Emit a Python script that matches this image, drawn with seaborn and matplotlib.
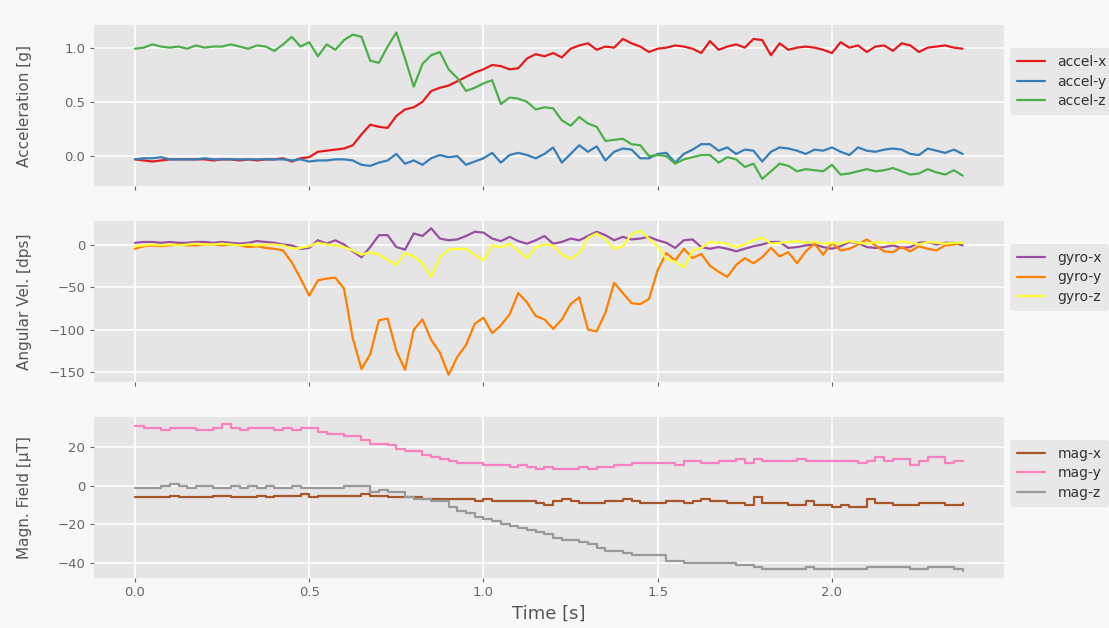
import numpy as np
import pandas as pd
import matplotlib
matplotlib.use("Agg")
import matplotlib.pyplot as plt
import seaborn as sns

# Sensor log sampled every 25 ms
SAMPLE_PERIOD = 0.025
N_SAMPLES = 96

accel_x = [-0.03, -0.04, -0.05, -0.04, -0.03, -0.03, -0.03, -0.03, -0.03, -0.04, -0.03, -0.03,
           -0.04, -0.03, -0.04, -0.03, -0.03, -0.02, -0.05, -0.02, -0.01, 0.04, 0.05, 0.06,
           0.07, 0.10, 0.20, 0.29, 0.27, 0.26, 0.37, 0.43, 0.45, 0.50, 0.60, 0.63,
           0.65, 0.69, 0.73, 0.77, 0.80, 0.84, 0.83, 0.80, 0.81, 0.90, 0.94, 0.92,
           0.95, 0.91, 0.99, 1.02, 1.04, 0.98, 1.01, 1.00, 1.08, 1.04, 1.01, 0.96,
           0.99, 1.00, 1.02, 1.01, 0.99, 0.95, 1.06, 0.98, 1.01, 1.03, 1.00, 1.08,
           1.07, 0.93, 1.04, 0.98, 1.00, 1.01, 1.00, 0.98, 0.95, 1.05, 1.00, 1.02,
           0.96, 1.01, 1.02, 0.97, 1.04, 1.02, 0.96, 1.00, 1.01, 1.02, 1.00, 0.99]
accel_y = [-0.03, -0.02, -0.02, -0.01, -0.03, -0.03, -0.03, -0.03, -0.02, -0.03, -0.03, -0.03,
           -0.03, -0.03, -0.03, -0.03, -0.03, -0.03, -0.04, -0.03, -0.05, -0.04, -0.04, -0.03,
           -0.03, -0.04, -0.08, -0.09, -0.06, -0.04, 0.02, -0.07, -0.04, -0.08, -0.02, 0.01,
           -0.01, 0.00, -0.08, -0.05, -0.02, 0.03, -0.06, 0.01, 0.03, 0.01, -0.02, 0.02,
           0.08, -0.06, 0.02, 0.10, 0.04, 0.09, -0.04, 0.04, 0.07, 0.06, -0.02, -0.02,
           0.02, 0.03, -0.06, 0.02, 0.06, 0.11, 0.11, 0.05, 0.08, 0.02, 0.06, 0.05,
           -0.05, 0.04, 0.08, 0.07, 0.05, 0.02, 0.06, 0.05, 0.08, 0.04, 0.01, 0.08,
           0.05, 0.04, 0.06, 0.07, 0.06, 0.02, 0.01, 0.07, 0.05, 0.03, 0.06, 0.02]
accel_z = [0.99, 1.00, 1.03, 1.01, 1.00, 1.01, 0.99, 1.02, 1.00, 1.01, 1.01, 1.03,
           1.01, 0.99, 1.02, 1.01, 0.97, 1.03, 1.10, 1.01, 1.05, 0.92, 1.03, 0.98,
           1.07, 1.12, 1.10, 0.88, 0.86, 1.01, 1.14, 0.90, 0.64, 0.85, 0.93, 0.96,
           0.80, 0.72, 0.60, 0.63, 0.67, 0.70, 0.48, 0.54, 0.53, 0.50, 0.43, 0.45,
           0.44, 0.33, 0.28, 0.36, 0.30, 0.27, 0.14, 0.15, 0.16, 0.11, 0.10, 0.00,
           0.01, 0.00, -0.07, -0.03, -0.01, 0.01, 0.01, -0.06, -0.01, -0.03, -0.10, -0.07,
           -0.21, -0.14, -0.07, -0.09, -0.14, -0.12, -0.13, -0.14, -0.08, -0.17, -0.16, -0.14,
           -0.12, -0.14, -0.13, -0.11, -0.14, -0.17, -0.16, -0.12, -0.15, -0.17, -0.13, -0.18]

gyro_x = [2, 3, 3, 2, 3, 2, 2, 3, 3, 2, 3, 2,
          1, 2, 4, 3, 2, 0, -1, -5, -4, 5, 1, 5,
          0, -8, -15, -3, 11, 11, -3, -6, 13, 10, 19, 7,
          5, 6, 10, 15, 14, 7, 4, 9, 4, 1, 5, 10,
          1, 3, 7, 5, 10, 15, 11, 5, 9, 6, 7, 9,
          5, 2, -4, 5, 6, -3, -5, -3, -5, -8, -5, -2,
          0, 3, 3, -4, -3, -1, 0, -3, -5, -2, 3, 2,
          -3, -4, -3, -1, -4, -3, 2, 3, 0, 2, 2, -1]
gyro_y = [-5, -2, -1, -2, -1, 0, -1, -1, 0, 0, -1, 0,
          -1, -3, -2, -4, -5, -7, -21, -40, -60, -42, -40, -39,
          -52, -110, -146, -129, -89, -87, -125, -147, -100, -88, -112, -127,
          -153, -132, -118, -93, -86, -104, -95, -82, -57, -68, -84, -88,
          -99, -88, -70, -62, -100, -102, -80, -45, -57, -69, -70, -64,
          -30, -10, -19, -5, -16, -11, -25, -32, -38, -24, -16, -22,
          -15, -4, -14, -9, -22, -8, 1, -12, 2, -7, -5, 0,
          6, -1, -8, -9, -3, -8, -2, -5, -7, -1, 0, 2]
gyro_z = [-2, -1, 0, -1, 0, -1, 0, 1, 0, 0, 1, 0,
          -1, 0, -1, 0, 0, -1, -5, -4, -2, 2, 0, -1,
          -3, -7, -12, -9, -12, -18, -24, -10, -14, -22, -38, -15,
          -6, -5, -5, -12, -19, -1, -3, 1, -7, -16, -3, 0,
          -1, -12, -17, -10, 8, 13, 6, -5, -2, 12, 16, 7,
          -2, -17, -20, -27, -7, -4, 3, 2, 1, -3, 0, 5,
          8, 1, 2, 3, 4, 2, 3, 1, 2, 1, 4, 2,
          1, 3, 2, 1, 4, 2, 0, 3, 2, 1, 2, 2]

mag_x = [-6, -6, -6, -6, -5, -6, -6, -6, -6, -5, -5, -6,
         -6, -6, -5, -6, -5, -5, -5, -4, -6, -5, -5, -5,
         -5, -5, -4, -5, -5, -6, -6, -6, -6, -7, -7, -7,
         -7, -7, -7, -8, -7, -8, -8, -8, -8, -8, -9, -10,
         -8, -7, -8, -9, -9, -9, -8, -8, -7, -8, -9, -9,
         -9, -8, -8, -9, -8, -7, -8, -8, -9, -9, -10, -6,
         -9, -9, -9, -10, -10, -8, -10, -10, -11, -10, -11, -11,
         -7, -9, -9, -10, -10, -10, -9, -9, -9, -10, -10, -9]
mag_y = [31, 30, 30, 29, 30, 30, 30, 29, 29, 30, 32, 30,
         29, 30, 30, 30, 29, 30, 29, 30, 30, 28, 27, 27,
         26, 26, 24, 22, 22, 21, 19, 18, 18, 16, 15, 14,
         13, 12, 12, 12, 11, 11, 11, 10, 11, 10, 9, 10,
         9, 9, 9, 10, 9, 10, 10, 11, 11, 12, 12, 12,
         12, 12, 11, 13, 13, 12, 12, 13, 13, 14, 12, 14,
         13, 13, 13, 13, 14, 13, 13, 13, 13, 13, 13, 12,
         13, 15, 13, 14, 14, 11, 13, 15, 15, 12, 13, 13]
mag_z = [-1, -1, -1, 0, 1, 0, -1, 0, 0, -1, -1, 0,
         -1, 0, -1, 0, -1, -1, 0, -1, -1, -1, -1, -1,
         0, 0, 0, -3, -2, -3, -3, -6, -7, -7, -8, -8,
         -11, -13, -14, -16, -17, -18, -20, -21, -22, -23, -24, -25,
         -27, -28, -28, -29, -30, -32, -34, -34, -35, -36, -36, -36,
         -36, -39, -39, -40, -40, -40, -40, -40, -40, -41, -41, -42,
         -43, -43, -43, -43, -43, -42, -43, -43, -43, -43, -43, -43,
         -42, -42, -42, -42, -42, -43, -43, -42, -42, -42, -43, -44]

time_s = np.arange(N_SAMPLES) * SAMPLE_PERIOD

panels = [
    ("Acceleration [g]", {"accel-x": accel_x, "accel-y": accel_y, "accel-z": accel_z},
     ["#e41a1c", "#377eb8", "#4daf4a"], [0.0, 0.5, 1.0], "default"),
    ("Angular Vel. [dps]", {"gyro-x": gyro_x, "gyro-y": gyro_y, "gyro-z": gyro_z},
     ["#984ea3", "#ff7f00", "#ffff33"], [-150, -100, -50, 0], "default"),
    ("Magn. Field [µT]", {"mag-x": mag_x, "mag-y": mag_y, "mag-z": mag_z},
     ["#a65628", "#f781bf", "#999999"], [-40, -20, 0, 20], "steps-post"),
]

sns.set_theme(style="darkgrid", rc={
    "axes.facecolor": "#e5e5e5",
    "figure.facecolor": "#f7f8f7",
    "grid.color": "white",
    "grid.linewidth": 1.2,
    "axes.edgecolor": "#e5e5e5",
    "xtick.color": "#666666",
    "ytick.color": "#666666",
    "xtick.labelcolor": "#666666",
    "ytick.labelcolor": "#666666",
    "axes.labelcolor": "#555555",
    "text.color": "#333333",
    "xtick.bottom": True,
    "ytick.left": True,
    "xtick.major.size": 3,
    "ytick.major.size": 3,
    "xtick.major.width": 0.8,
    "ytick.major.width": 0.8,
})
plt.rcParams["font.family"] = ["DejaVu Sans"]

fig, axes = plt.subplots(3, 1, figsize=(11.09, 6.28), dpi=100, sharex=True)
fig.subplots_adjust(left=0.0844, right=0.9053, top=0.960, bottom=0.0796, hspace=0.216)

for ax, (ylabel, series, colors, yticks, drawstyle) in zip(axes, panels):
    df = pd.DataFrame({"time": time_s, **series}).melt(
        id_vars="time", var_name="axis", value_name="value")
    sns.lineplot(data=df, x="time", y="value", hue="axis", palette=colors,
                 linewidth=1.6, drawstyle=drawstyle, ax=ax)
    for s in ax.spines.values():
        s.set_visible(False)
    ax.set_yticks(yticks)
    ax.set_ylabel(ylabel, fontsize=11)
    ax.yaxis.set_label_coords(-0.068, 0.5)
    ax.set_xlabel("")
    ax.tick_params(axis="both", labelsize=9.5, direction="out", pad=3)
    leg = ax.legend(loc="center left", bbox_to_anchor=(1.004, 0.65), fontsize=10,
                    frameon=True, facecolor="#e5e5e5", edgecolor="none",
                    handlelength=2.0, handletextpad=0.9, borderpad=0.5,
                    borderaxespad=0.2, labelspacing=0.4)
    for t in leg.get_texts():
        t.set_color("#333333")

axes[-1].set_xticks([0.0, 0.5, 1.0, 1.5, 2.0])
axes[-1].set_xlabel("Time [s]", fontsize=13, labelpad=4)

fig.savefig("out.png", dpi=100, facecolor=fig.get_facecolor())
